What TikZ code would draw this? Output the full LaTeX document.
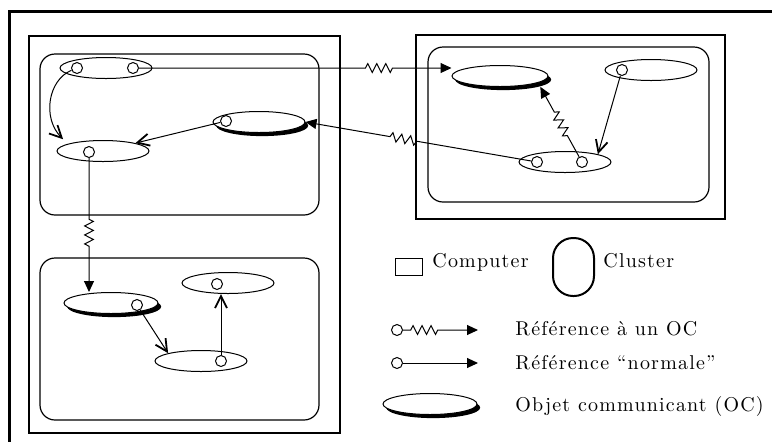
\documentclass[tikz,border=0pt]{standalone}
\usepackage{fontspec}
\newfontfamily\legendfont{lmroman10-regular.otf}[LetterSpace=6]
\usetikzlibrary{arrows.meta,calc,shapes.geometric,shadows,decorations.pathmorphing}

\begin{document}
\begin{tikzpicture}[x=0.5pt,y=-0.5pt,
  obj/.style={ellipse,draw,line width=0.5pt,fill=white,minimum width=46pt,minimum height=10.5pt,inner sep=0pt},
  oc/.style={obj,drop shadow={shadow xshift=1.6pt,shadow yshift=-1.8pt,opacity=1,fill=black}},
  hole/.style={circle,draw,line width=0.5pt,fill=white,minimum size=5.5pt,inner sep=0pt},
  computer/.style={line width=0.6pt},
  cluster/.style={line width=0.6pt,rounded corners=7.5pt},
  normref/.style={line width=0.5pt,-{Straight Barb[length=6pt,width=6pt,line width=0.9pt]}},
  ocref/.style={line width=0.5pt,-{Triangle[length=5.5pt,width=5pt]},
    decoration={zigzag,segment length=4.5pt,amplitude=2.2pt}},
  lbl/.style={anchor=base west,inner sep=0pt,font=\legendfont}]
\useasboundingbox (0,0) rectangle (772,441);

% Outer frame
\draw[line width=1.5pt] (9,11) rectangle (800,470);

% Computers
\draw[computer] (29,36) rectangle (340,433);
\draw[computer] (416,35) rectangle (725,219);

% Clusters
\draw[cluster] (40,54) rectangle (319,215);
\draw[cluster] (40,258) rectangle (319,420);
\draw[cluster] (428,47) rectangle (709,202);

% Objects
\node[obj] (a) at (106,68) {};
\node[obj] (b) at (103,151) {};
\node[oc] (c) at (259,122) {};
\node[oc,minimum width=48pt] (d) at (500,76) {};
\node[obj] (e) at (651,70) {};
\node[obj] (f) at (565,162) {};
\node[oc,minimum width=47pt] (g) at (111,303) {};
\node[obj] (h) at (228,283) {};
\node[obj] (i) at (201,361) {};

% References held by the objects
\foreach \n/\p in {a1/{77,68}, a2/{133,68}, b1/{89,152}, c1/{226,121}, e1/{622,70},
                   f1/{537,162}, f2/{582,162}, g1/{137,305}, h1/{217,284}, i1/{221,361}}
    \node[hole] (\n) at (\p) {};

% Normal references
\draw[normref] (a1) .. controls (48,80) and (42,118) .. ($(b.north west)+(-7,-4)$);
\draw[normref] (c1) -- (b);
\draw[normref] (e1) -- (f.north east);
\draw[normref] (g1) -- (i.north west);
\draw[normref] (i1) -- (i1 |- h.south);

% References to an OC
\draw[ocref] (a2) -- ($(a2)!.73!(d.west |- a2)$) decorate {-- ($(a2)!.82!(d.west |- a2)$)} -- (d.west |- a2);
\draw[ocref] (f1) -- ($(f1)!.52!(c.east)$) decorate {-- ($(f1)!.65!(c.east)$)} -- (c.east);
\draw[ocref] (f2) -- ($(f2)!.35!($(d.south east)+(6,3)$)$) decorate {-- ($(f2)!.68!($(d.south east)+(6,3)$)$)} -- ($(d.south east)+(6,3)$);
\draw[ocref] (b1) -- ($(b1)!.48!(b1 |- g.north)$) decorate {-- ($(b1)!.68!(b1 |- g.north)$)} -- (b1 |- g.north);

% Legend
\draw[line width=0.5pt] (395,258) rectangle (422,275);
\node[lbl] (tcomp) at (432,267) {Computer};
\draw[line width=1pt,rounded corners=10pt] (553,238) rectangle (594,296);
\node[lbl] (tclus) at (603,267) {Cluster};

\node[hole] (lh1) at (397,330) {};
\coordinate (lt1) at (478,330);
\draw[ocref] (lh1) -- ($(lh1)!.17!(lt1)$) decorate {-- ($(lh1)!.53!(lt1)$)} -- (lt1);
\node[lbl] (tref) at (515,335) {Référence à un OC};

\node[hole] (lh2) at (397,363) {};
\coordinate (lt2) at (478,363);
\draw[line width=0.5pt,-{Triangle[length=5.5pt,width=5pt]}] (lh2) -- (lt2);
\node[lbl] (tnorm) at (515,369) {Référence “normale”};

\node[oc,minimum width=47pt] (loc) at (430,404) {};
\node[lbl] (toc) at (515,411) {Objet communicant (OC)};
\end{tikzpicture}
\end{document}
